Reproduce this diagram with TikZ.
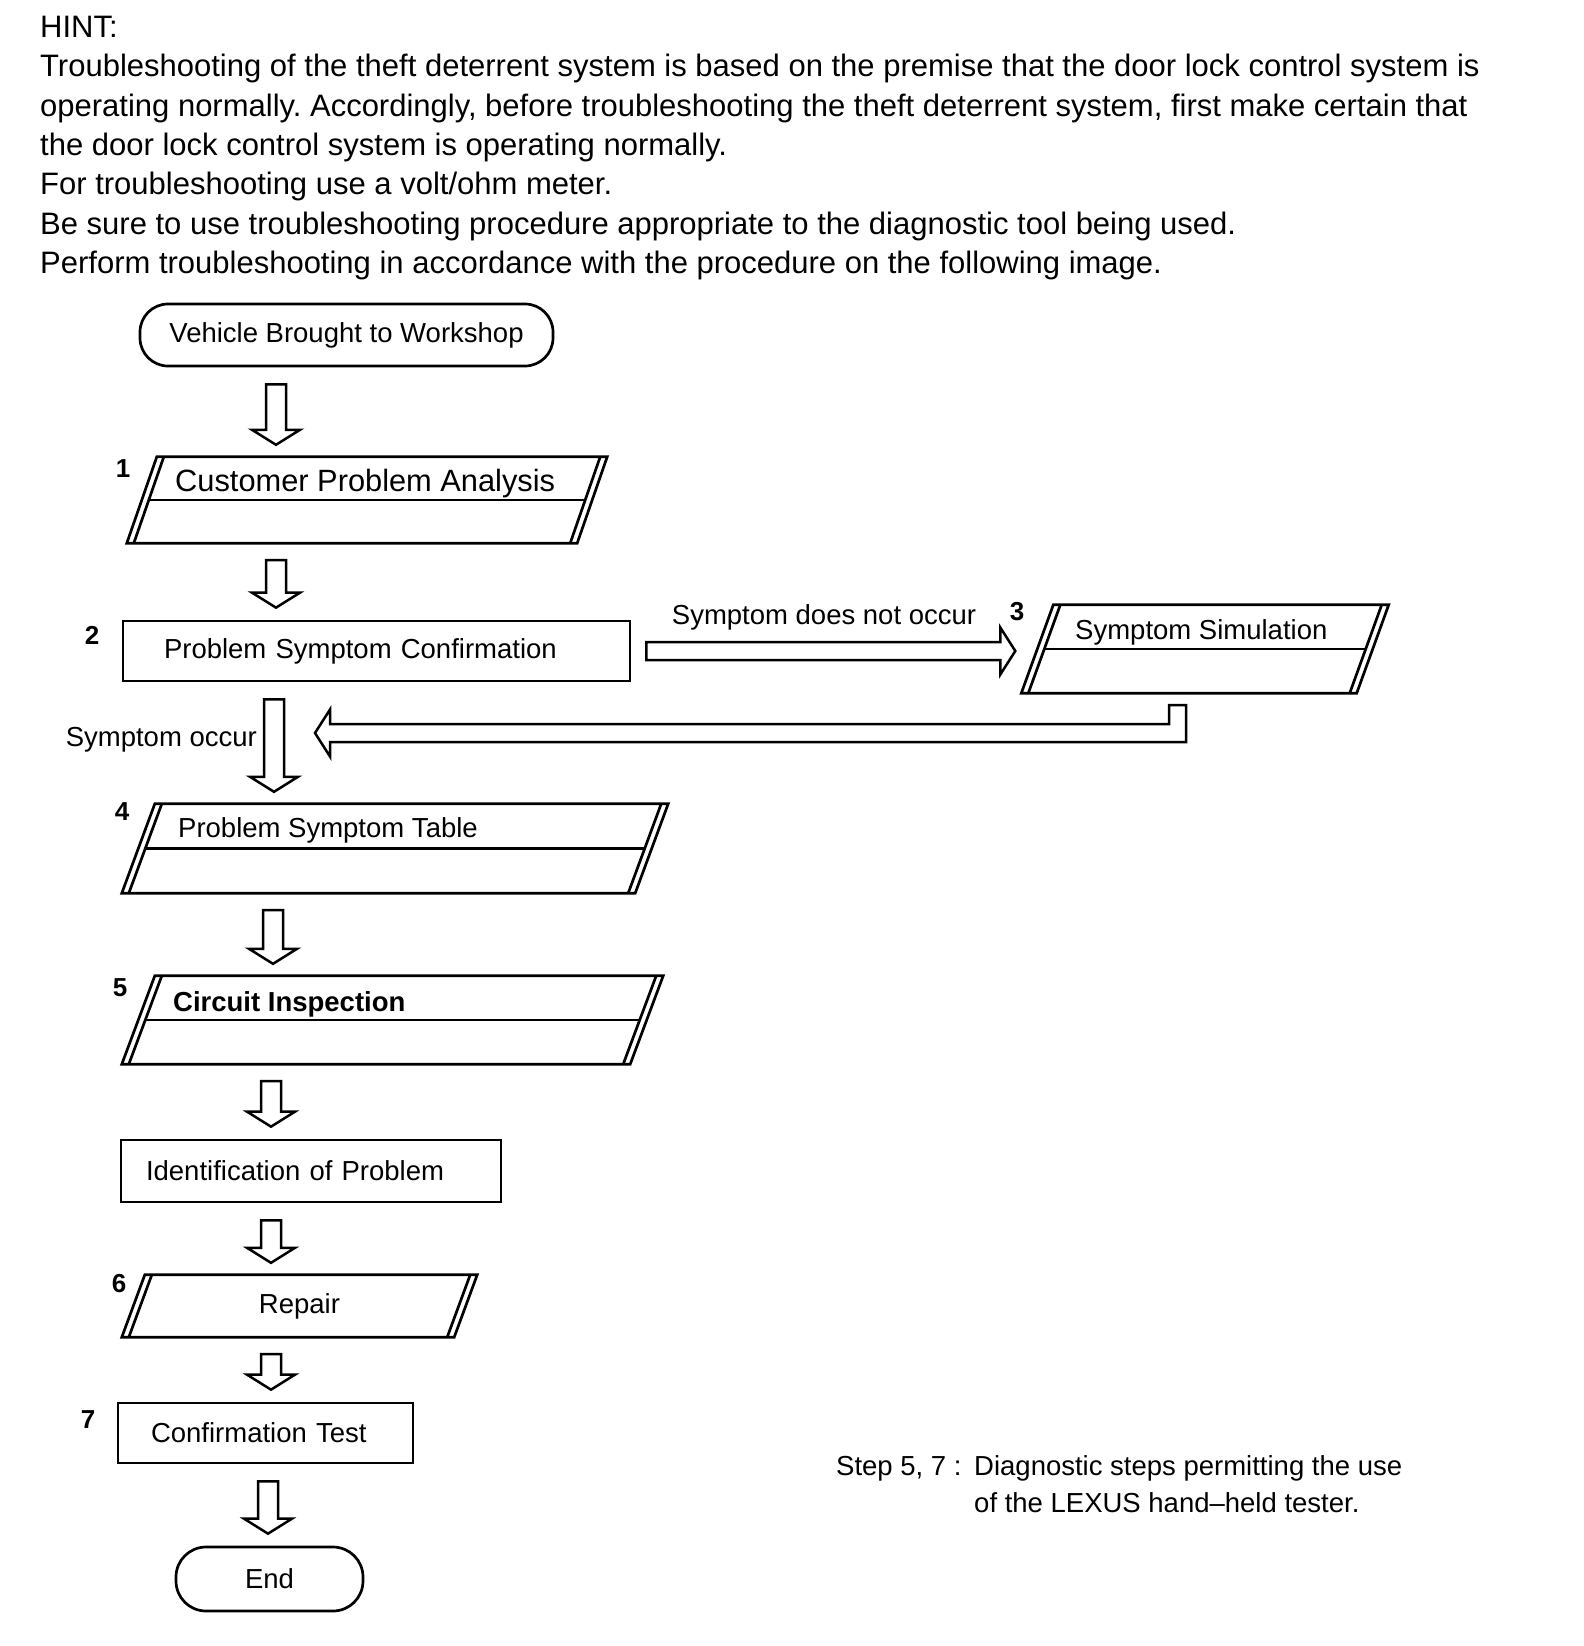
\documentclass[tikz,border=0pt]{standalone}
\usepackage{fontspec}
\setmainfont{Liberation Sans}
\usetikzlibrary{calc,positioning}
\frenchspacing

% slanted step box with doubled sides, drawn round a named rectangle node
\newcommand{\paraoutline}[2]{%
  \draw[boxline] ($(#1.north west)+(#2pt,0pt)$) -- ($(#1.north east)+(#2pt,0pt)$)
    -- ($(#1.south east)-(#2pt,0pt)$) -- ($(#1.south west)-(#2pt,0pt)$) -- cycle;
  \draw[boxline] ($(#1.north west)+(#2pt+7pt,0pt)$) -- ($(#1.south west)+(7pt-#2pt,0pt)$);
  \draw[boxline] ($(#1.north east)+(#2pt-7pt,0pt)$) -- ($(#1.south east)-(#2pt+7pt,0pt)$);}
\newcommand{\paramid}[1]{%
  \draw[boxline] ($(#1.west)+(7pt,0pt)$) -- ($(#1.east)-(7pt,0pt)$);}
% hollow block arrow going down between two nodes, at column x=#1
\newcommand{\flowdown}[3]{%
  \draw[hollow] let \p1=(#2.south), \p2=(#3.north) in
    (#1pt-10pt,\y1-17pt) -- (#1pt+10pt,\y1-17pt) -- (#1pt+10pt,\y2+27pt)
    -- (#1pt+24pt,\y2+27pt) -- (#1pt,\y2+12pt) -- (#1pt-24pt,\y2+27pt)
    -- (#1pt-10pt,\y2+27pt) -- cycle;}

\begin{document}
\begin{tikzpicture}[x=1pt, y=-1pt,
    term/.style={draw, line width=2.7pt, rounded corners=28pt, minimum height=62pt,
                 inner sep=0pt, font=\fontsize{27.5}{33}\selectfont},
    stepbox/.style={draw, line width=2.7pt, minimum height=60pt, inner ysep=0pt,
                    align=left, font=\fontsize{27.5}{33}\selectfont},
    para/.style={rectangle, inner sep=0pt, font=\fontsize{27.5}{33}\selectfont},
    boxline/.style={line width=2.7pt, line join=miter},
    hollow/.style={line width=2.5pt, line join=miter},
    lbl/.style={inner sep=0pt, font=\fontsize{27.5}{37}\selectfont},
    num/.style={inner sep=0pt, font=\bfseries\fontsize{26}{30}\selectfont}
]
    \useasboundingbox (0,0) rectangle (1584,1646);

    \node[anchor=north west, inner sep=0pt, align=left,
          font=\fontsize{31}{39.3}\selectfont] (hint) at (40,16)
        {HINT:\\
         Troubleshooting of the theft deterrent system is based on the premise that the door lock control system is\\
         operating normally. Accordingly, before troubleshooting the theft deterrent system, first make certain that\\
         the door lock control system is operating normally.\\
         For troubleshooting use a volt/ohm meter.\\
         Be sure to use troubleshooting procedure appropriate to the diagnostic tool being used.\\
         Perform troubleshooting in accordance with the procedure on the following image.};

    % steps
    \node[term, minimum width=413pt] (start) at (346.5,335) {Vehicle Brought to Workshop};

    \node[para, minimum width=450pt, minimum height=86pt] (cust) at (367,500) {};
    \paraoutline{cust}{15}\paramid{cust}
    \node[lbl, anchor=base west, font=\fontsize{30.8}{37}\selectfont] (custtxt) at (175,491) {Customer Problem Analysis};

    \node[stepbox, text width=425pt, inner xsep=41pt] (conf) at (376.5,651) {Problem Symptom Confirmation};

    \node[para, minimum width=335pt, minimum height=88pt] (sim) at (1205,649) {};
    \paraoutline{sim}{16}\paramid{sim}
    \node[lbl, anchor=base west] (simtxt) at (1075,639) {Symptom Simulation};

    \node[para, minimum width=513pt, minimum height=89pt] (table) at (395,848.5) {};
    \paraoutline{table}{16.5}\paramid{table}
    \node[lbl, anchor=base west] (tabletxt) at (178,837) {Problem Symptom Table};

    \node[para, minimum width=508pt, minimum height=88pt] (circ) at (392.5,1020) {};
    \paraoutline{circ}{16.5}\paramid{circ}
    \node[lbl, anchor=base west, font=\bfseries\fontsize{27.5}{37}\selectfont] (circtxt) at (173,1011) {Circuit Inspection};

    \node[stepbox, minimum height=62pt, text width=330pt, inner xsep=25pt] (ident) at (311,1171) {Identification of Problem};

    \node[para, minimum width=332pt, minimum height=62pt] (repair) at (299.5,1306) {Repair};
    \paraoutline{repair}{11.5}

    \node[stepbox, text width=229pt, inner xsep=33pt] (test) at (265.5,1433) {Confirmation Test};

    \node[term, minimum width=187pt, minimum height=64pt, rounded corners=30pt] (finish) at (269.5,1579) {End};

    % step numbers
    \node[num, anchor=base] (n1) at (123,477) {1};
    \node[num, anchor=base] (n2) at (92,644) {2};
    \node[num, anchor=base] (n3) at (1017,620) {3};
    \node[num, anchor=base] (n4) at (122,820) {4};
    \node[num, anchor=base] (n5) at (120,996) {5};
    \node[num, anchor=base] (n6) at (119,1292) {6};
    \node[num, anchor=base] (n7) at (88,1428) {7};

    % flow
    \flowdown{276}{start}{cust}
    \flowdown{276}{cust}{conf}
    \flowdown{274}{conf}{table}
    \flowdown{273}{table}{circ}
    \flowdown{271}{circ}{ident}
    \flowdown{271}{ident}{repair}
    \flowdown{271}{repair}{test}
    \flowdown{268}{test}{finish}

    \draw[hollow] let \p1=(conf.east), \p2=(sim.west) in
        (\x1+15pt,\y1+9pt) -- (\x2-37pt,\y1+9pt) -- (\x2-37pt,\y1+23.5pt) -- (\x2-22pt,\y1)
        -- (\x2-37pt,\y1-23.5pt) -- (\x2-37pt,\y1-9pt) -- (\x1+15pt,\y1-9pt) -- cycle;
    \node[lbl, anchor=base] (notocc) at (824,624) {Symptom does not occur};

    \coordinate (rejoin) at (315,733);
    \draw[hollow] let \p1=(sim.south), \p2=(rejoin) in
        (\x1-19pt,\y1-12pt) -- (\x1-19pt,\y1-49pt) -- (\x2+15pt,\y1-49pt) -- (\x2+15pt,\y2-23.5pt)
        -- (\x2,\y2) -- (\x2+15pt,\y2+23.5pt) -- (\x2+15pt,\y1-31pt) -- (\x1-36pt,\y1-31pt)
        -- (\x1-36pt,\y1-12pt) -- cycle;
    \node[lbl, anchor=base east] (occ) at (257,746) {Symptom occur};

    % note
    \node[lbl, anchor=base west] (stepkey) at (836,1475) {Step 5, 7 :};
    \node[lbl, anchor=north west, align=left] (stepnote) at (974,1455)
        {Diagnostic steps permitting the use\\of the LEXUS hand--held tester.};
\end{tikzpicture}
\end{document}
